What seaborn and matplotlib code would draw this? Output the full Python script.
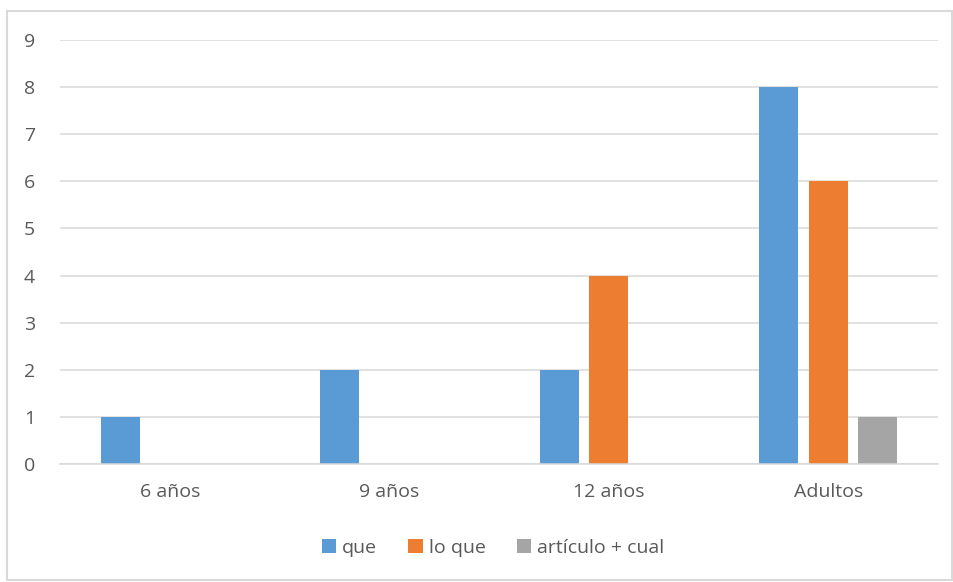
import pandas as pd
import numpy as np
import matplotlib.pyplot as plt
import seaborn as sns
from matplotlib.patches import Rectangle, Patch

# datos del gráfico
grupos = ["6 años", "9 años", "12 años", "Adultos"]
series = ["que", "lo que", "artículo + cual"]
que = [1, 2, 2, 8]
lo_que = [0, 0, 4, 6]
articulo_cual = [0, 0, 0, 1]
colores = ["#5B9BD5", "#ED7D31", "#A5A5A5"]
y_ticks = list(range(0, 10))

df = pd.DataFrame({
    "grupo": grupos * 3,
    "serie": [series[0]] * 4 + [series[1]] * 4 + [series[2]] * 4,
    "valor": que + lo_que + articulo_cual,
})

sns.set_theme(style="white")
plt.rcParams['font.family'] = ['Open Sans', 'DejaVu Sans']
texto = "#595959"
rejilla = "#D9D9D9"

fig = plt.figure(figsize=(9.54, 5.82), dpi=100)
ax = fig.add_axes([60 / 954, 1 - 464 / 582, 878 / 954, 424 / 582])

sns.barplot(data=df, x="grupo", y="valor", hue="serie", order=grupos,
            hue_order=series, palette=colores, width=0.675, gap=0.21,
            saturation=1, linewidth=0, edgecolor="none", ax=ax, legend=False)

ax.set_xlim(-0.5, 3.5)
ax.set_ylim(0, 9)
ax.set_yticks(y_ticks)
ax.yaxis.grid(True, color=rejilla, linewidth=1.1)
ax.set_axisbelow(True)
for lado in ["left", "right", "top"]:
    ax.spines[lado].set_visible(False)
ax.spines["bottom"].set_color(rejilla)
ax.spines["bottom"].set_linewidth(1.1)
ax.set_xlabel("")
ax.set_ylabel("")
ax.tick_params(axis="y", length=0, pad=18, labelsize=14, labelcolor=texto)
ax.tick_params(axis="x", length=0, pad=14, labelsize=14, labelcolor=texto)

handles = [Patch(facecolor=c, edgecolor="none") for c in colores]
fig.legend(handles, series, loc="center", bbox_to_anchor=(493 / 954, 1 - 548 / 582),
           ncol=3, frameon=False, fontsize=14, labelcolor=texto,
           handlelength=0.75, handleheight=0.75, handletextpad=0.3, columnspacing=1.6)

# borde del gráfico
fig.patches.append(Rectangle((7 / 954, 2 / 582), 945 / 954, 569 / 582,
                             transform=fig.transFigure, fill=False,
                             edgecolor=rejilla, linewidth=1.5))

fig.savefig("out.png", dpi=100)
